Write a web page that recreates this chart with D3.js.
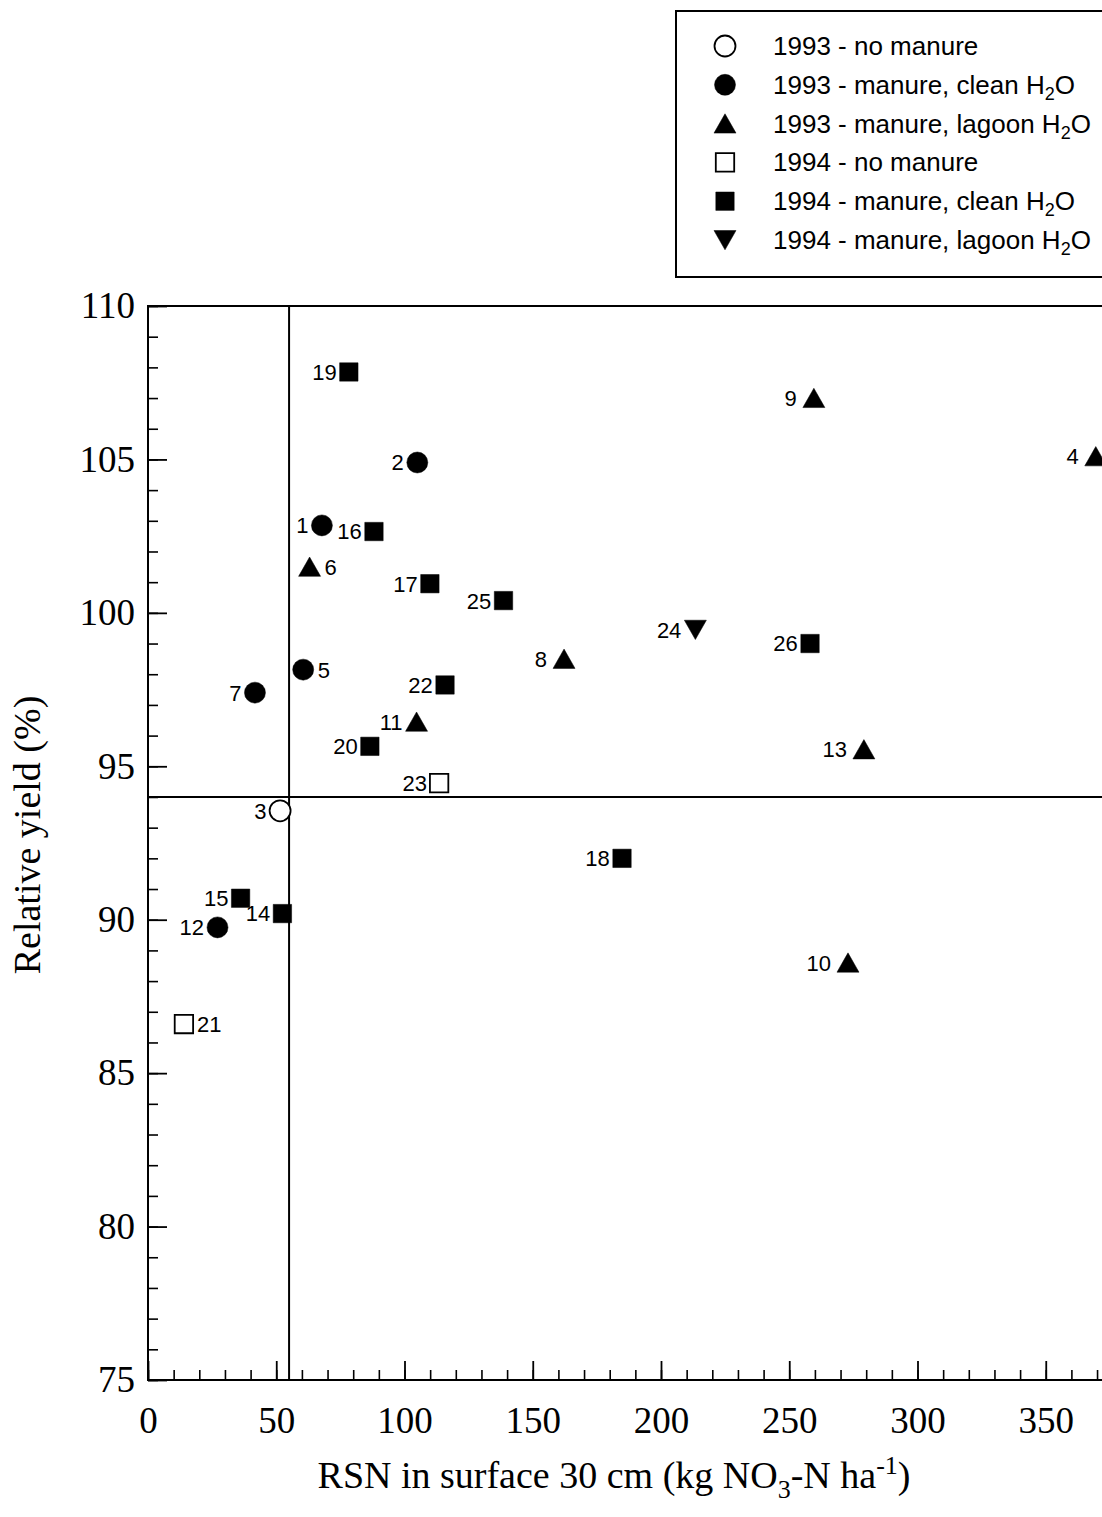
<!DOCTYPE html>
<html>
<head>
<meta charset="utf-8">
<script src="https://cdn.jsdelivr.net/npm/d3@7"></script>
<style>
  html, body { margin: 0; padding: 0; background: #fff; }
  svg { display: block; }
</style>
</head>
<body>
<svg id="chart" width="1102" height="1517"></svg>
<script>
// ---------------- data ----------------
const seriesNames = [
  "1993 - no manure",
  "1993 - manure, clean H2O",
  "1993 - manure, lagoon H2O",
  "1994 - no manure",
  "1994 - manure, clean H2O",
  "1994 - manure, lagoon H2O"
];
const pointIds = [1,2,3,4,5,6,7,8,9,10,11,12,13,14,15,16,17,18,19,20,21,22,23,24,25,26];
const rsn = [67.8,105.0,51.5,369.5,60.5,63.0,41.7,162.2,259.6,272.9,104.7,27.1,279.1,52.4,36.1,88.1,109.9,184.8,78.3,86.5,14.0,115.8,113.5,213.4,138.6,258.1];
const relYield = [102.85,104.9,93.55,105.1,98.15,101.5,97.4,98.5,107.0,88.6,96.45,89.75,95.55,90.2,90.7,102.65,100.95,92.0,107.85,95.65,86.6,97.65,94.45,99.45,100.4,99.0];
const seriesIndex = [1,1,0,2,1,2,1,2,2,2,2,1,2,4,4,4,4,4,4,4,3,4,3,5,4,4];
const xTicks = [0,50,100,150,200,250,300,350];
const yTicks = [75,80,85,90,95,100,105,110];
const rsnThreshold = 55;
const yieldThreshold = 94;
const labelsOnRight = [5,6,21];

// ---------------- layout ----------------
const svg = d3.select("#chart");
const x = d3.scaleLinear().domain([0,400]).range([148,1174]);
const y = d3.scaleLinear().domain([75,110]).range([1380,306]);
const sansFont = "'Liberation Sans', Arial, Helvetica, sans-serif";
const serifFont = "'Liberation Serif', 'Times New Roman', Times, serif";

// symbol shapes: [kind, filled]
const shapes = [
  ["circle", false], ["circle", true], ["up", true],
  ["square", false], ["square", true], ["down", true]
];
const halfW = {circle: 10.5, square: 9.2, up: 11, down: 11};

function symbolPath(kind) {
  const p = d3.path();
  if (kind === "circle") { p.arc(0,0,10.5,0,2*Math.PI); p.closePath(); }
  else if (kind === "square") { p.rect(-9.2,-9.2,18.4,18.4); }
  else if (kind === "up") { p.moveTo(0,-9.8); p.lineTo(11,9.5); p.lineTo(-11,9.5); p.closePath(); }
  else { p.moveTo(-11,-9.5); p.lineTo(11,-9.5); p.lineTo(0,9.8); p.closePath(); }
  return p.toString();
}
function drawSymbol(g, s) {
  const [kind, filled] = shapes[s];
  g.append("path")
    .attr("d", symbolPath(kind))
    .attr("fill", filled ? "#000" : "#fff")
    .attr("stroke", "#000")
    .attr("stroke-width", filled ? 0.5 : 1.8);
}

// ---------------- axes ----------------
const axisG = svg.append("g");

// y minor
axisG.append("g").attr("transform", "translate(148,0)")
  .call(d3.axisLeft(y).tickValues(d3.range(75,111,1)).tickSize(-10).tickFormat(""))
  .call(g => g.select(".domain").remove())
  .call(g => g.selectAll("line").attr("stroke-width", 1.6));
// y major
axisG.append("g").attr("transform", "translate(148,0)")
  .call(d3.axisLeft(y).tickValues(yTicks).tickSize(-19).tickPadding(13).tickFormat(d3.format("d")))
  .call(g => g.select(".domain").remove())
  .call(g => g.selectAll("line").attr("stroke-width", 1.8))
  .call(g => g.selectAll("text").attr("font-family", serifFont).attr("font-size", 37).attr("fill", "#000"));
// x minor
axisG.append("g").attr("transform", "translate(0,1380)")
  .call(d3.axisBottom(x).tickValues(d3.range(0,401,10)).tickSize(-10).tickFormat(""))
  .call(g => g.select(".domain").remove())
  .call(g => g.selectAll("line").attr("stroke-width", 1.6));
// x major
axisG.append("g").attr("transform", "translate(0,1380)")
  .call(d3.axisBottom(x).tickValues(xTicks).tickSize(-19).tickPadding(27).tickFormat(d3.format("d")))
  .call(g => g.select(".domain").remove())
  .call(g => g.selectAll("line").attr("stroke-width", 1.8))
  .call(g => g.selectAll("text").attr("font-family", serifFont).attr("font-size", 37).attr("fill", "#000"));

// frame
svg.append("rect")
  .attr("x", x(0)).attr("y", y(110))
  .attr("width", x(400) - x(0)).attr("height", y(75) - y(110))
  .attr("fill", "none").attr("stroke", "#000").attr("stroke-width", 2);

// threshold lines
svg.append("line")
  .attr("x1", x(rsnThreshold)).attr("x2", x(rsnThreshold))
  .attr("y1", y(110)).attr("y2", y(75))
  .attr("stroke", "#000").attr("stroke-width", 2);
svg.append("line")
  .attr("x1", x(0)).attr("x2", x(400))
  .attr("y1", y(yieldThreshold)).attr("y2", y(yieldThreshold))
  .attr("stroke", "#000").attr("stroke-width", 2);

// axis titles
const xt = svg.append("text")
  .attr("x", 614).attr("y", 1488)
  .attr("text-anchor", "middle")
  .attr("font-family", serifFont).attr("font-size", 38).attr("fill", "#000");
xt.append("tspan").text("RSN in surface 30 cm (kg NO");
xt.append("tspan").attr("font-size", 26).attr("dy", 10).text("3");
xt.append("tspan").attr("dy", -10).text("-N ha");
xt.append("tspan").attr("font-size", 26).attr("dy", -14).text("-1");
xt.append("tspan").attr("dy", 14).text(")");

svg.append("text")
  .attr("transform", "translate(40,835) rotate(-90)")
  .attr("text-anchor", "middle")
  .attr("font-family", serifFont).attr("font-size", 38).attr("fill", "#000")
  .text("Relative yield (%)");

// ---------------- points ----------------
const pts = pointIds.map((id, i) => ({id, x: rsn[i], y: relYield[i], s: seriesIndex[i]}));
const pg = svg.append("g");
pts.forEach(d => {
  const g = pg.append("g").attr("transform", `translate(${x(d.x)},${y(d.y)})`);
  drawSymbol(g, d.s);
  const kind = shapes[d.s][0];
  const right = labelsOnRight.includes(d.id);
  const gap = (kind === "up" && d.x > 150) ? 6 : 3;
  g.append("text")
    .attr("x", right ? halfW[kind] + 4 : -(halfW[kind] + gap))
    .attr("y", 0).attr("dy", "0.36em")
    .attr("text-anchor", right ? "start" : "end")
    .attr("font-family", sansFont).attr("font-size", 22).attr("fill", "#000")
    .text(d.id);
});

// ---------------- legend ----------------
const lg = svg.append("g");
lg.append("rect")
  .attr("x", 676).attr("y", 11).attr("width", 600).attr("height", 266)
  .attr("fill", "#fff").attr("stroke", "#000").attr("stroke-width", 2);
const ly = d3.scalePoint().domain(seriesNames).range([46, 240]);
seriesNames.forEach((name, i) => {
  const row = lg.append("g").attr("transform", `translate(0,${ly(name)})`);
  const sg = row.append("g").attr("transform", "translate(725,0)");
  drawSymbol(sg, i);
  const t = row.append("text").attr("x", 773).attr("y", 9)
    .attr("font-family", sansFont).attr("font-size", 26).attr("fill", "#000");
  if (name.endsWith("H2O")) {
    t.append("tspan").text(name.slice(0, -2));
    t.append("tspan").attr("font-size", 18).attr("dy", 6).text("2");
    t.append("tspan").attr("dy", -6).text("O");
  } else {
    t.text(name);
  }
});
</script>
</body>
</html>
